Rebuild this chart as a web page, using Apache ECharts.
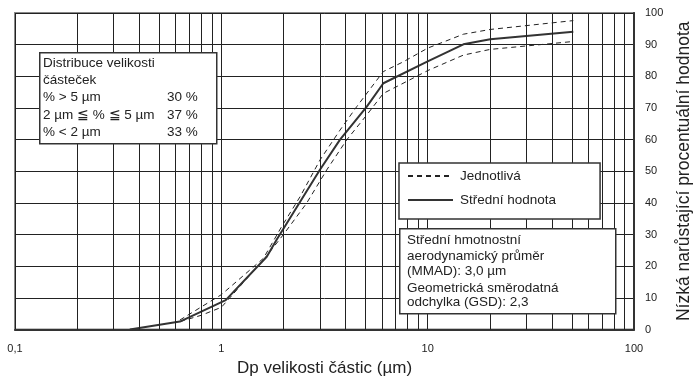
<!DOCTYPE html>
<html>
<head>
<meta charset="utf-8">
<script src="https://cdn.jsdelivr.net/npm/echarts@6/dist/echarts.min.js"></script>
<style>
  html, body { margin: 0; padding: 0; background: #fff; }
  #chart { width: 693px; height: 379px; }
</style>
</head>
<body>
<div id="chart"></div>
<script>
// Particle size (µm) and cumulative undersize percentage
const meanSize  = [0.36, 0.63, 1.05, 1.66, 1.85, 3.0, 3.76, 5.07, 6.1, 10, 14.9, 20.1, 50.8];
const meanPct   = [0, 2.5, 9.3, 23, 28.3, 50.4, 60, 70.4, 77.8, 84.7, 90.1, 91.7, 94.1];

const upperSize = [0.63, 1.0, 1.6, 1.96, 2.41, 3.01, 3.76, 4.53, 5.67, 6.1, 7.63, 10, 14.9, 20.1, 50.8];
const upperPct  = [3, 11, 22.5, 32.5, 42, 53.6, 63, 70.4, 78.8, 81.5, 84.6, 88.9, 93.3, 94.8, 97.6];

const lowerSize = [0.63, 0.8, 1.0, 1.6, 2.0, 2.59, 3.24, 4.05, 5.07, 6.1, 7.35, 10, 14.9, 20.1, 50.8];
const lowerPct  = [2.5, 4.5, 7, 22, 30, 39.9, 50.4, 59.9, 67.8, 74.6, 77.3, 81.8, 86.7, 88.5, 91];

// Minor logarithmic grid positions (2..9 in each decade)
const minorGrid = [0.2, 0.3, 0.4, 0.5, 0.6, 0.7, 0.8, 0.9,
                   2, 3, 4, 5, 6, 7, 8, 9,
                   20, 30, 40, 50, 60, 70, 80, 90];

const distTitle = ['Distribuce velikosti', 'částeček'];
const distRows  = [['% > 5 µm', '30 %'], ['2 µm ≦ % ≦ 5 µm', '37 %'], ['% < 2 µm', '33 %']];
const statLines = ['Střední hmotnostní', 'aerodynamický průměr', '(MMAD): 3,0 µm',
                   'Geometrická směrodatná', 'odchylka (GSD): 2,3'];

const FONT = '"Liberation Sans", Arial, sans-serif';
const INK = '#222';
const BOX_FONT = '13.5px ' + FONT;

const zip = (xs, ys) => xs.map((x, i) => [x, ys[i]]);

const chart = echarts.init(document.getElementById('chart'));

const graphics = [];
// size distribution box
graphics.push({
  type: 'rect', left: 39, top: 52, z: 100,
  shape: { width: 177, height: 91 },
  style: { fill: '#fff', stroke: '#333', lineWidth: 1.5 }
});
const distLinesY = [63, 80, 97, 115, 132];
distTitle.forEach((t, i) => graphics.push({
  type: 'text', x: 43, y: distLinesY[i], z: 101,
  style: { text: t, font: BOX_FONT, fill: INK, textVerticalAlign: 'middle' }
}));
distRows.forEach((r, i) => {
  graphics.push({
    type: 'text', x: 43, y: distLinesY[i + 2], z: 101,
    style: { text: r[0], font: BOX_FONT, fill: INK, textVerticalAlign: 'middle' }
  });
  graphics.push({
    type: 'text', x: 167, y: distLinesY[i + 2], z: 101,
    style: { text: r[1], font: BOX_FONT, fill: INK, textVerticalAlign: 'middle' }
  });
});
// MMAD / GSD box
graphics.push({
  type: 'rect', left: 399, top: 228, z: 100,
  shape: { width: 216, height: 85 },
  style: { fill: '#fff', stroke: '#333', lineWidth: 1.5 }
});
const statY = [240, 256, 271, 288, 302];
statLines.forEach((t, i) => graphics.push({
  type: 'text', x: 407, y: statY[i], z: 101,
  style: { text: t, font: BOX_FONT, fill: INK, textVerticalAlign: 'middle' }
}));

chart.setOption({
  animation: false,
  backgroundColor: '#fff',
  color: ['#222', '#222', '#333'],
  textStyle: { fontFamily: FONT },
  grid: {
    left: 15, right: 59, top: 13, bottom: 49.5,
    containLabel: false, outerBoundsMode: 'none',
    show: true, borderColor: '#888', borderWidth: 2, backgroundColor: 'transparent'
  },
  legend: {
    orient: 'vertical',
    left: 399, top: 163,
    padding: [6, 44, 12, 8],
    itemWidth: 45, itemHeight: 10, itemGap: 10,
    backgroundColor: '#fff',
    borderColor: '#333', borderWidth: 1.5,
    itemStyle: { opacity: 0 },
    textStyle: { fontSize: 13.5, color: INK, fontFamily: FONT, padding: [0, 0, 0, 2] },
    data: ['Jednotlivá', 'Střední hodnota'],
    z: 100
  },
  xAxis: {
    type: 'log', logBase: 10, min: 0.1, max: 100,
    name: 'Dp velikosti částic (µm)',
    nameLocation: 'middle', nameGap: 30,
    nameTextStyle: { fontSize: 17, color: INK, fontFamily: FONT },
    axisLine: { show: true, lineStyle: { color: '#333', width: 2 } },
    axisTick: { show: false },
    axisLabel: {
      fontSize: 11, color: INK, margin: 14, fontFamily: FONT,
      formatter: v => String(v).replace('.', ',')
    },
    splitLine: { show: true, lineStyle: { color: '#222', width: 1 } },
    minorTick: { show: false },
    minorSplitLine: { show: false }
  },
  yAxis: {
    type: 'value', position: 'right', min: 0, max: 100, interval: 10,
    name: 'Nízká narůstající procentuální hodnota',
    nameLocation: 'middle', nameGap: 41, nameRotate: 90,
    nameTextStyle: { fontSize: 17.5, color: INK, fontFamily: FONT },
    axisLine: { show: true, lineStyle: { color: '#333', width: 2 } },
    axisTick: { show: false },
    axisLabel: { fontSize: 11, color: INK, margin: 11, fontFamily: FONT },
    splitLine: { show: true, lineStyle: { color: '#222', width: 1 } }
  },
  series: [
    {
      name: 'Jednotlivá', type: 'line', data: zip(upperSize, upperPct),
      symbol: 'none', smooth: false, z: 3,
      lineStyle: { color: '#222', width: 1, type: [5, 4] },
      markLine: {
        silent: true, symbol: 'none', label: { show: false },
        lineStyle: { color: '#222', width: 1, type: 'solid' },
        emphasis: { disabled: true },
        data: minorGrid.map(v => ({ xAxis: v }))
      }
    },
    {
      name: 'Jednotlivá', type: 'line', data: zip(lowerSize, lowerPct),
      symbol: 'none', smooth: false, z: 3,
      lineStyle: { color: '#222', width: 1, type: [5, 4] }
    },
    {
      name: 'Střední hodnota', type: 'line', data: zip(meanSize, meanPct),
      symbol: 'none', smooth: false, z: 4,
      lineStyle: { color: '#333', width: 2, type: 'solid' }
    }
  ],
  graphic: graphics
});
</script>
</body>
</html>
